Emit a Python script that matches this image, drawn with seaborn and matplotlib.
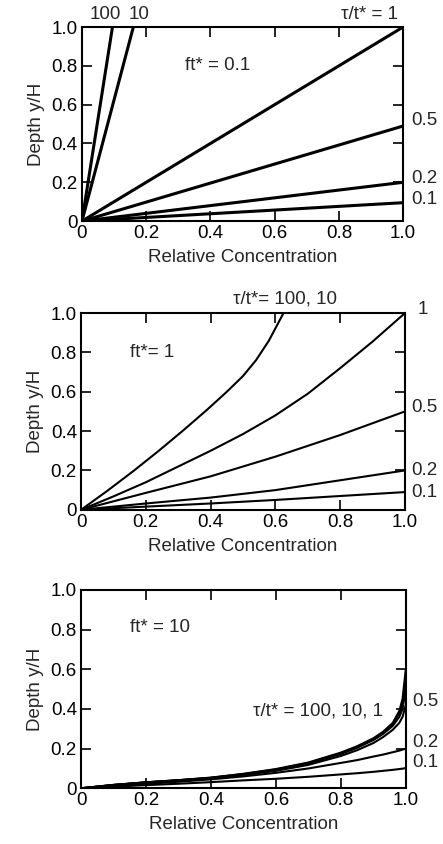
import numpy as np
import pandas as pd
import matplotlib
matplotlib.use("Agg")
import matplotlib.pyplot as plt
import seaborn as sns

# ft* = 0.1 : straight lines from the origin
top_x = {"100": [0, 0.095], "10": [0, 0.16], "1": [0, 1.0], "0.5": [0, 1.0], "0.2": [0, 1.0], "0.1": [0, 1.0]}
top_y = {"100": [0, 1.0], "10": [0, 1.0], "1": [0, 1.0], "0.5": [0, 0.49], "0.2": [0, 0.2], "0.1": [0, 0.095]}

# ft* = 1
mid_x = {
    "100, 10": [0, 0.08, 0.16, 0.24, 0.32, 0.39, 0.45, 0.5, 0.54, 0.58, 0.625],
    "1": [0, 0.1, 0.2, 0.3, 0.4, 0.5, 0.6, 0.7, 0.8, 0.9, 1.0],
    "0.5": [0, 0.2, 0.4, 0.6, 0.8, 0.9, 1.0],
    "0.2": [0, 0.2, 0.4, 0.6, 0.8, 1.0],
    "0.1": [0, 0.2, 0.4, 0.6, 0.8, 1.0],
}
mid_y = {
    "100, 10": [0, 0.095, 0.195, 0.3, 0.41, 0.51, 0.6, 0.68, 0.76, 0.86, 1.0],
    "1": [0, 0.068, 0.14, 0.22, 0.3, 0.385, 0.48, 0.59, 0.72, 0.855, 1.0],
    "0.5": [0, 0.086, 0.17, 0.27, 0.38, 0.44, 0.5],
    "0.2": [0, 0.032, 0.062, 0.1, 0.15, 0.2],
    "0.1": [0, 0.016, 0.032, 0.05, 0.07, 0.09],
}

# ft* = 10
bot_xs = [0, 0.1, 0.2, 0.3, 0.4, 0.5, 0.6, 0.7, 0.8, 0.85, 0.9, 0.93, 0.96, 0.98, 0.99, 1.0]
bot_y = {
    "100": [0, 0.017, 0.03, 0.041, 0.054, 0.073, 0.097, 0.13, 0.18, 0.212, 0.252, 0.285, 0.33, 0.39, 0.45, 0.6],
    "10": [0, 0.017, 0.03, 0.041, 0.053, 0.072, 0.095, 0.128, 0.177, 0.208, 0.248, 0.28, 0.325, 0.38, 0.43, 0.55],
    "1": [0, 0.017, 0.03, 0.04, 0.052, 0.07, 0.093, 0.125, 0.173, 0.204, 0.243, 0.274, 0.315, 0.36, 0.4, 0.5],
    "0.5": [0, 0.016, 0.029, 0.039, 0.05, 0.067, 0.088, 0.118, 0.163, 0.192, 0.228, 0.258, 0.295, 0.33, 0.36, 0.42],
    "0.2": [0, 0.012, 0.022, 0.033, 0.045, 0.06, 0.078, 0.1, 0.128, 0.142, 0.16, 0.17, 0.182, 0.19, 0.195, 0.2],
    "0.1": [0, 0.008, 0.016, 0.023, 0.031, 0.04, 0.048, 0.058, 0.07, 0.076, 0.083, 0.088, 0.093, 0.097, 0.099, 0.102],
}

FS = 13.5

sns.set_style("ticks")
plt.rcParams["font.family"] = ["Liberation Sans", "DejaVu Sans"]
plt.rcParams["font.size"] = FS

fig = plt.figure(figsize=(4.43, 8.44), dpi=100)
ax1 = fig.add_axes([0.185, 0.738, 0.725, 0.230])
ax2 = fig.add_axes([0.183, 0.396, 0.731, 0.233])
ax3 = fig.add_axes([0.183, 0.066, 0.733, 0.235])


def draw(ax, xs, ys, lw):
    for key in ys:
        x = xs[key] if isinstance(xs, dict) else xs
        df = pd.DataFrame({"x": x, "y": ys[key]})
        sns.lineplot(data=df, x="x", y="y", ax=ax, color="black", lw=lw,
                     sort=False, estimator=None)


def style(ax):
    ax.set_xlim(0, 1)
    ax.set_ylim(0, 1)
    ticks = [0, 0.2, 0.4, 0.6, 0.8, 1.0]
    labels = ["0", "0.2", "0.4", "0.6", "0.8", "1.0"]
    ax.set_xticks(ticks)
    ax.set_xticklabels(labels)
    ax.set_yticks(ticks)
    ax.set_yticklabels(labels)
    ax.tick_params(direction="in", length=7, width=1.2, top=True, right=True,
                   labelsize=FS, colors="black", pad=3)
    for s in ax.spines.values():
        s.set_linewidth(1.5)
        s.set_color("black")
    ax.set_xlabel("Relative Concentration", fontsize=FS, labelpad=5)
    ax.set_ylabel("Depth y/H", fontsize=FS, labelpad=5)


draw(ax1, top_x, top_y, 2.2)
draw(ax2, mid_x, mid_y, 1.5)
draw(ax3, bot_xs, bot_y, 1.5)
for a in (ax1, ax2, ax3):
    style(a)

# top panel annotations
ax1.text(0.025, 1.02, "100", ha="left", va="bottom", fontsize=FS, transform=ax1.transAxes)
ax1.text(0.145, 1.02, "10", ha="left", va="bottom", fontsize=FS, transform=ax1.transAxes)
ax1.text(0.985, 1.02, "τ/t* = 1", ha="right", va="bottom", fontsize=FS, transform=ax1.transAxes)
ax1.text(0.32, 0.80, "ft* = 0.1", fontsize=FS, va="center")
for lab, yy in [("0.5", 0.52), ("0.2", 0.22), ("0.1", 0.11)]:
    ax1.text(1.025, yy, lab, fontsize=FS, va="center", transform=ax1.transAxes)

# middle panel annotations
ax2.text(0.47, 1.03, "τ/t*= 100, 10", ha="left", va="bottom", fontsize=FS, transform=ax2.transAxes)
ax2.text(1.04, 1.02, "1", fontsize=FS, va="center", transform=ax2.transAxes)
ax2.text(0.15, 0.80, "ft*= 1", fontsize=FS, va="center")
for lab, yy in [("0.5", 0.52), ("0.2", 0.20), ("0.1", 0.09)]:
    ax2.text(1.02, yy, lab, fontsize=FS, va="center", transform=ax2.transAxes)

# bottom panel annotations
ax3.text(0.15, 0.81, "ft* = 10", fontsize=FS, va="center")
ax3.text(0.53, 0.39, "τ/t* = 100, 10, 1", fontsize=FS, va="center")
for lab, yy in [("0.5", 0.44), ("0.2", 0.23), ("0.1", 0.13)]:
    ax3.text(1.02, yy, lab, fontsize=FS, va="center", transform=ax3.transAxes)

fig.savefig("out.png", dpi=100)
